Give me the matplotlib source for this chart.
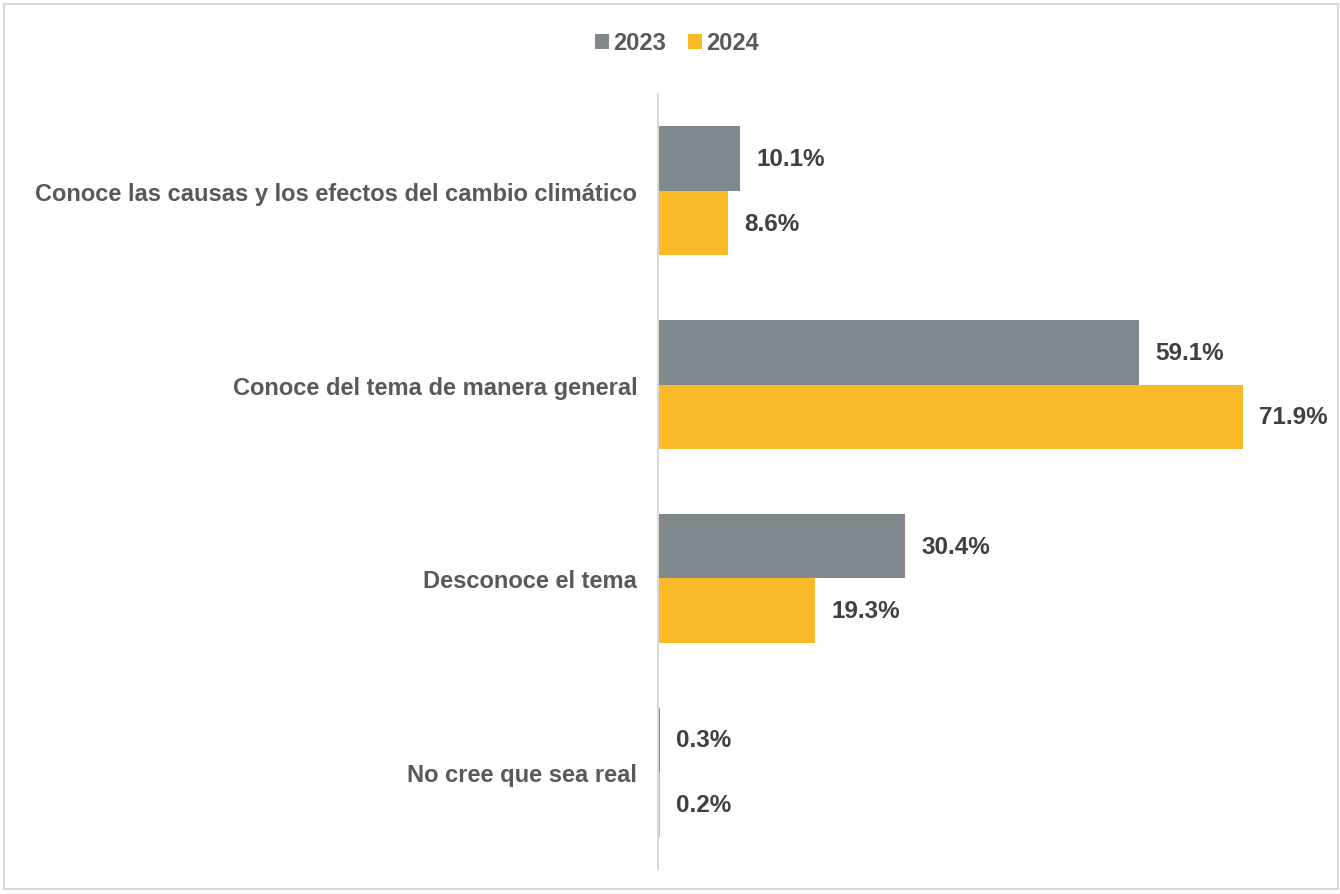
import matplotlib.pyplot as plt
import numpy as np
from matplotlib.patches import Rectangle

categories = ['Conoce las causas y los efectos del cambio climático',
              'Conoce del tema de manera general',
              'Desconoce el tema',
              'No cree que sea real']
v2023 = [10.1, 59.1, 30.4, 0.3]
v2024 = [8.6, 71.9, 19.3, 0.2]
series = ['2023', '2024']

plt.rcParams['font.family'] = ['Liberation Sans', 'DejaVu Sans']
plt.rcParams['font.weight'] = 'bold'

fig = plt.figure(figsize=(13.4, 8.95), dpi=100)
ax = fig.add_axes([658/1340, 25/895, 651/1340, 775/895])

y = np.arange(len(categories))
h = 0.333
b1 = ax.barh(y - h/2, v2023, height=h, color='#7F888D', label=series[0])
b2 = ax.barh(y + h/2, v2024, height=h, color='#F9BA27', label=series[1])

for bars, vals in [(b1, v2023), (b2, v2024)]:
    for bar, v in zip(bars, vals):
        ax.annotate(f'{v:.1f}%', (bar.get_width(), bar.get_y() + bar.get_height()/2),
                    xytext=(11.5, 0), textcoords='offset points', va='center', ha='left',
                    fontsize=17.5, fontweight='bold', color='#404040')

ax.set_xlim(0, 80)
ax.set_ylim(3.5, -0.5)
ax.set_yticks(y)
ax.set_yticklabels(categories, fontsize=17, fontweight='bold', color='#595959')
ax.tick_params(axis='y', length=0, pad=15)
ax.set_xticks([])
for s in ['top', 'right', 'bottom']:
    ax.spines[s].set_visible(False)
ax.spines['left'].set_color('#D9D9D9')
ax.spines['left'].set_linewidth(1.5)

fig.legend(loc='center', bbox_to_anchor=(677/1340, 1 - 44/895), ncol=2, frameon=False,
           handlelength=0.6, handleheight=0.6, handletextpad=0.2,
           columnspacing=0.9, labelcolor='#595959', prop={'weight': 'bold', 'size': 17})

fig.patches.append(Rectangle((4/1340, 5/895), 1334/1340, 885/895, transform=fig.transFigure,
                             fill=False, edgecolor='#D9D9D9', linewidth=1.5))

fig.savefig('out.png', dpi=100)
